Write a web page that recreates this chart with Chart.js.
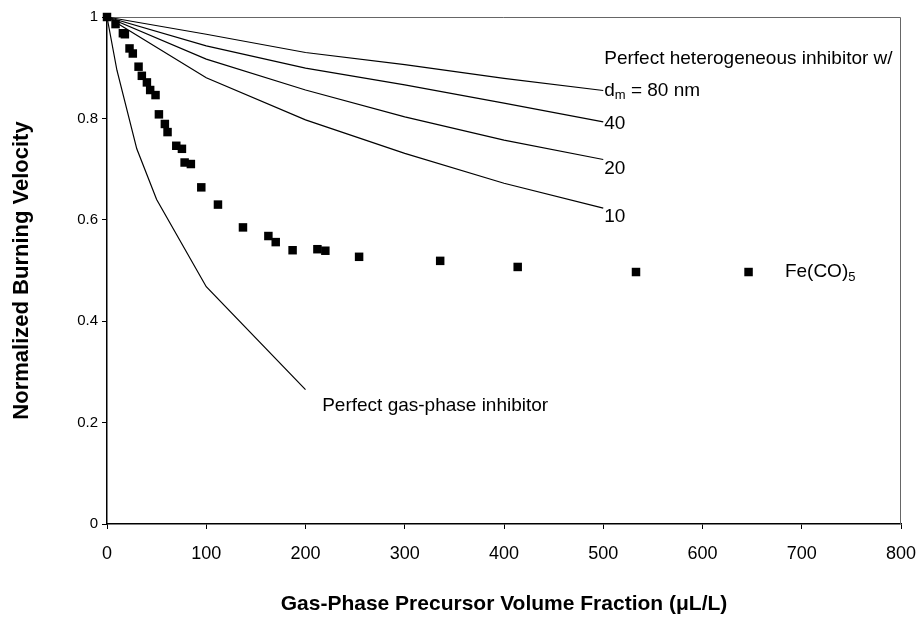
<!DOCTYPE html>
<html>
<head>
<meta charset="utf-8">
<script src="https://cdn.jsdelivr.net/npm/chart.js@4/dist/chart.umd.min.js"></script>
<style>
  html, body { margin: 0; padding: 0; background: #fff; }
  #wrap { width: 917px; height: 619px; position: relative; }
</style>
</head>
<body>
<div id="wrap"><canvas id="velChart"></canvas></div>
<script>
// --- data ---
var xTicks = [0, 100, 200, 300, 400, 500, 600, 700, 800];
var yTicks = [0, 0.2, 0.4, 0.6, 0.8, 1];

// perfect gas-phase inhibitor
var gasX = [0, 10, 30, 50, 100, 200];
var gasY = [1, 0.895, 0.74, 0.64, 0.468, 0.265];

// perfect heterogeneous inhibitor, by particle diameter
var hetX = [0, 100, 200, 300, 400, 500];
var het80 = [1, 0.966, 0.930, 0.906, 0.879, 0.855];
var het40 = [1, 0.943, 0.899, 0.866, 0.830, 0.793];
var het20 = [1, 0.917, 0.856, 0.803, 0.757, 0.719];
var het10 = [1, 0.880, 0.797, 0.731, 0.672, 0.623];

// Fe(CO)5 measurements
var feX = [0, 8.6, 16, 18, 22.7, 26, 31.8, 35.1, 40.2, 43.5, 48.9, 52.3, 58.3, 61,
  69.8, 75.5, 78.2, 84.5, 95, 111.8, 137, 162.6, 170, 187, 212, 220, 254,
  335.7, 413.8, 533, 646.4];
var feY = [1, 0.986, 0.968, 0.966, 0.938, 0.928, 0.902, 0.884, 0.871, 0.856, 0.846,
  0.808, 0.789, 0.773, 0.746, 0.740, 0.713, 0.710, 0.664, 0.630, 0.585, 0.568,
  0.556, 0.540, 0.542, 0.539, 0.527, 0.519, 0.507, 0.497, 0.497];

// text labels placed at data coordinates; each part is [text, isSubscript]
var notes = [
  { x: 501, y: 0.918, parts: [["Perfect heterogeneous inhibitor w/", false]] },
  { x: 501, y: 0.855, parts: [["d", false], ["m", true], [" = 80 nm", false]] },
  { x: 501, y: 0.790, parts: [["40", false]] },
  { x: 501, y: 0.701, parts: [["20", false]] },
  { x: 501, y: 0.606, parts: [["10", false]] },
  { x: 683, y: 0.497, parts: [["Fe(CO)", false], ["5", true]] },
  { x: 216.8, y: 0.234, parts: [["Perfect gas-phase inhibitor", false]] }
];

function pts(xs, ys) {
  return xs.map(function (x, i) { return { x: x, y: ys[i] }; });
}

var FONT = "'Liberation Sans', Arial, sans-serif";

function curve(label, xs, ys) {
  return {
    label: label,
    data: pts(xs, ys),
    showLine: true,
    borderColor: "#000",
    borderWidth: 1.2,
    pointRadius: 0,
    fill: false,
    clip: false
  };
}

// frame + annotation text
var notesPlugin = {
  id: "notes",
  beforeDatasetsDraw: function (chart) {
    var a = chart.chartArea, ctx = chart.ctx;
    ctx.save();
    ctx.strokeStyle = "#666";
    ctx.lineWidth = 1;
    ctx.beginPath();
    ctx.moveTo(a.left, a.top + 0.5);
    ctx.lineTo(a.right - 0.5, a.top + 0.5);
    ctx.lineTo(a.right - 0.5, a.bottom);
    ctx.stroke();
    ctx.restore();
  },
  afterDatasetsDraw: function (chart) {
    var ctx = chart.ctx, xs = chart.scales.x, ys = chart.scales.y;
    ctx.save();
    ctx.fillStyle = "#000";
    ctx.textBaseline = "middle";
    ctx.textAlign = "left";
    notes.forEach(function (n) {
      var px = xs.getPixelForValue(n.x);
      var py = ys.getPixelForValue(n.y);
      n.parts.forEach(function (p) {
        if (p[1]) {
          ctx.font = "13px " + FONT;
          ctx.fillText(p[0], px, py + 5);
        } else {
          ctx.font = "19px " + FONT;
          ctx.fillText(p[0], px, py);
        }
        px += ctx.measureText(p[0]).width;
      });
    });
    ctx.restore();
  }
};

var chart = new Chart(document.getElementById("velChart"), {
  type: "scatter",
  data: {
    datasets: [
      curve("Perfect gas-phase inhibitor", gasX, gasY),
      curve("d = 80 nm", hetX, het80),
      curve("d = 40 nm", hetX, het40),
      curve("d = 20 nm", hetX, het20),
      curve("d = 10 nm", hetX, het10),
      {
        label: "Fe(CO)5",
        data: pts(feX, feY),
        showLine: false,
        pointStyle: "rect",
        pointRadius: 6,
        pointBackgroundColor: "#000",
        pointBorderColor: "#000",
        pointBorderWidth: 0,
        clip: false
      }
    ]
  },
  options: {
    responsive: true,
    maintainAspectRatio: false,
    animation: false,
    events: [],
    layout: { padding: { left: 0, top: 17, right: 16, bottom: 0 } },
    plugins: {
      legend: { display: false },
      tooltip: { enabled: false }
    },
    scales: {
      x: {
        type: "linear",
        min: 0,
        max: 800,
        afterBuildTicks: function (s) { s.ticks = xTicks.map(function (v) { return { value: v }; }); },
        afterFit: function (s) { s.height = 95; s.paddingLeft = 0; s.paddingRight = 0; },
        grid: { drawOnChartArea: false, tickLength: 5, color: "#000", lineWidth: 1 },
        border: { color: "#000", width: 1.5 },
        ticks: { color: "#000", padding: 14, maxRotation: 0, font: { family: FONT, size: 18 } },
        title: {
          display: true,
          text: "Gas-Phase Precursor Volume Fraction (\u03bcL/L)",
          color: "#000",
          font: { family: FONT, size: 21, weight: "bold" },
          padding: { top: 0, bottom: 2 }
        }
      },
      y: {
        type: "linear",
        min: 0,
        max: 1,
        afterBuildTicks: function (s) { s.ticks = yTicks.map(function (v) { return { value: v }; }); },
        afterFit: function (s) { s.width = 107; s.paddingTop = 0; s.paddingBottom = 0; },
        grid: { drawOnChartArea: false, tickLength: 5, color: "#000", lineWidth: 1 },
        border: { color: "#000", width: 1.5 },
        ticks: {
          color: "#000",
          padding: 4,
          font: { family: FONT, size: 15 },
          callback: function (v) { return String(+v.toFixed(1)); }
        },
        title: {
          display: true,
          text: "Normalized Burning Velocity",
          color: "#000",
          font: { family: FONT, size: 22, weight: "bold" },
          padding: { top: 9, bottom: 0 }
        }
      }
    }
  },
  plugins: [notesPlugin]
});
</script>
</body>
</html>
